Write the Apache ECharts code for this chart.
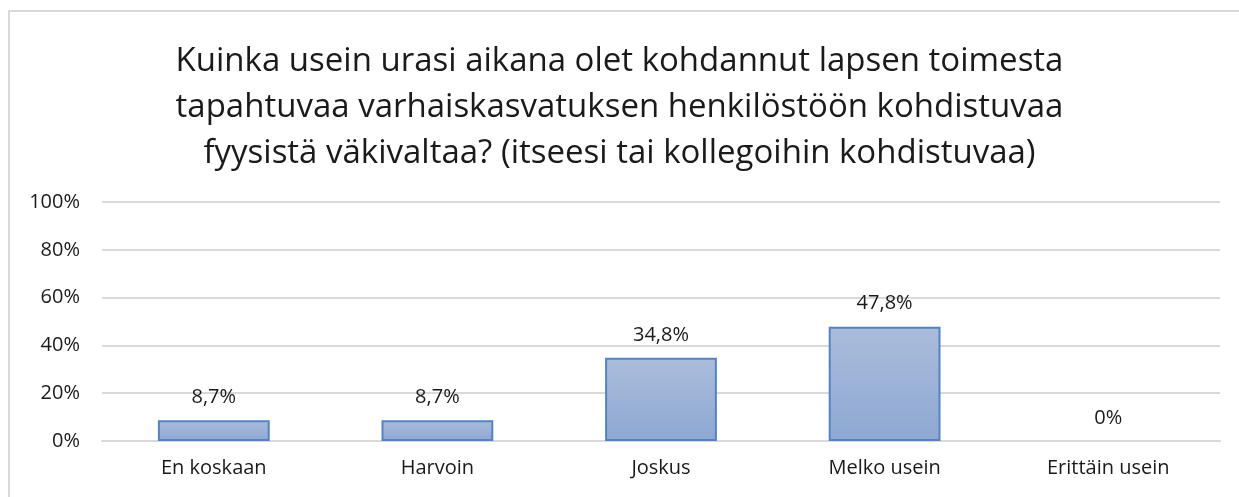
<!DOCTYPE html>
<html>
<head>
<meta charset="utf-8">
<script src="https://cdn.jsdelivr.net/npm/echarts@6/dist/echarts.min.js"></script>
<style>
  html, body { margin: 0; padding: 0; background: #fff; }
  #chart { width: 1239px; height: 497px; }
</style>
</head>
<body>
<div id="chart"></div>
<script>
const categories = ['En koskaan', 'Harvoin', 'Joskus', 'Melko usein', 'Erittäin usein']
const values = [8.7, 8.7, 34.8, 47.8, 0]
const yTicks = [0, 20, 40, 60, 80, 100]

const titleText = 'Kuinka usein urasi aikana olet kohdannut lapsen toimesta\ntapahtuvaa varhaiskasvatuksen henkilöstöön kohdistuvaa\nfyysistä väkivaltaa? (itseesi tai kollegoihin kohdistuvaa)'

const fmt = v => (v === 0 ? '0' : v.toFixed(1).replace('.', ',')) + '%'

const myChart = echarts.init(document.getElementById('chart'))
const font = '"Open Sans", sans-serif'
const labelSize = 20

// nollapylväälle ei reunaviivaa
const barData = values.map(v => v === 0 ? { value: v, itemStyle: { borderWidth: 0 } } : v)

const option = {
  animation: false,
  title: {
    text: titleText,
    left: 'center',
    top: 34,
    textStyle: {
      fontFamily: font,
      fontSize: 33,
      fontWeight: 'normal',
      color: '#1a1a1a',
      lineHeight: 46
    }
  },
  graphic: [{
    type: 'rect',
    shape: { x: 9, y: 11, width: 1400, height: 700 },
    style: { fill: 'none', stroke: '#d9d9d9', lineWidth: 2 },
    silent: true
  }],
  grid: {
    left: 102,
    right: 19,
    top: 202,
    bottom: 56
  },
  xAxis: {
    type: 'category',
    data: categories,
    axisLine: { lineStyle: { color: '#d9d9d9', width: 2 } },
    axisTick: { show: false },
    axisLabel: {
      fontFamily: font,
      fontSize: labelSize,
      color: '#1a1a1a',
      margin: 17
    }
  },
  yAxis: {
    type: 'value',
    min: yTicks[0],
    max: yTicks[yTicks.length - 1],
    interval: 20,
    axisLine: { show: false },
    axisTick: { show: false },
    splitLine: { lineStyle: { color: '#d9d9d9', width: 2 } },
    axisLabel: {
      fontFamily: font,
      fontSize: labelSize,
      color: '#1a1a1a',
      margin: 22,
      formatter: v => v + '%'
    }
  },
  series: [{
    type: 'bar',
    data: barData,
    barCategoryGap: '50%',
    itemStyle: {
      color: new echarts.graphic.LinearGradient(0, 0, 0, 1, [
        { offset: 0, color: '#aabcdb' },
        { offset: 1, color: '#8ea8d2' }
      ]),
      borderColor: '#5583c2',
      borderWidth: 2
    },
    label: {
      show: true,
      position: 'top',
      distance: 13,
      fontFamily: font,
      fontSize: labelSize,
      color: '#1a1a1a',
      formatter: p => fmt(p.value)
    }
  }]
}

myChart.setOption(option)
</script>
</body>
</html>
